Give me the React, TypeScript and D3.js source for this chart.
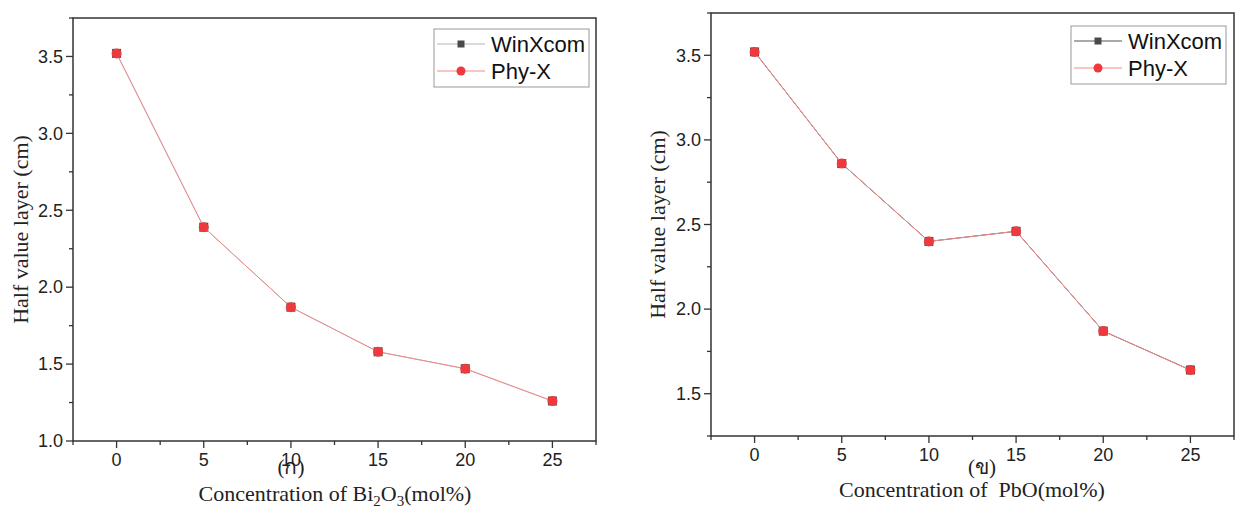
import React from 'react';
import * as d3 from 'd3';

// concentration (mol%) on the x axis, same for both panels
const concentrations = [0, 5, 10, 15, 20, 25];

// panel (ก) : Bi2O3
const bi2o3WinXcom = [3.52, 2.39, 1.87, 1.58, 1.47, 1.26];
const bi2o3PhyX = [3.52, 2.39, 1.87, 1.58, 1.47, 1.26];

// panel (ข) : PbO
const pboWinXcom = [3.52, 2.86, 2.40, 2.46, 1.87, 1.64];
const pboPhyX = [3.52, 2.86, 2.40, 2.46, 1.87, 1.64];

const xTicks = [0, 5, 10, 15, 20, 25];
const xMinorTicks = [-2.5, 2.5, 7.5, 12.5, 17.5, 22.5, 27.5];
const bi2o3YTicks = [1.0, 1.5, 2.0, 2.5, 3.0, 3.5];
const bi2o3YMinor = [1.25, 1.75, 2.25, 2.75, 3.25, 3.75];
const pboYTicks = [1.5, 2.0, 2.5, 3.0, 3.5];
const pboYMinor = [1.25, 1.75, 2.25, 2.75, 3.25, 3.75];

const seriesNames = ['WinXcom', 'Phy-X'];

const SANS = '"Liberation Sans", Arial, sans-serif';
const SERIF = '"Liberation Serif", "Times New Roman", serif';

type PanelProps = {
  left: number; right: number; top: number; bottom: number;
  yDomain: [number, number];
  yTicks: number[]; yMinor: number[];
  winxcom: number[]; phyx: number[];
  legendX: number; legendY: number;
  yTitleX: number;
  xTitle: React.ReactNode; xTitleX: number; xTitleY: number;
  tag: string; tagX: number;
  winLine: string;
};

function Panel(p: PanelProps) {
  const x = d3.scaleLinear().domain([-2.5, 27.5]).range([p.left, p.right]);
  const y = d3.scaleLinear().domain(p.yDomain).range([p.bottom, p.top]);
  const line = d3.line<number>()
    .x((_, i) => x(concentrations[i]))
    .y((d) => y(d));
  const axisColor = '#333';

  return (
    <g>
      {/* frame */}
      <rect x={p.left} y={p.top} width={p.right - p.left} height={p.bottom - p.top}
        fill="none" stroke={axisColor} strokeWidth={1.5} />

      {/* y ticks */}
      {p.yTicks.map((t) => (
        <g key={'y' + t}>
          <line x1={p.left - 7} x2={p.left} y1={y(t)} y2={y(t)} stroke={axisColor} strokeWidth={1.3} />
          <text x={p.left - 10} y={y(t)} dy="0.35em" textAnchor="end"
            fontFamily={SANS} fontSize={18} fill="#222">{t.toFixed(1)}</text>
        </g>
      ))}
      {p.yMinor.map((t) => (
        <line key={'ym' + t} x1={p.left - 4} x2={p.left} y1={y(t)} y2={y(t)} stroke={axisColor} strokeWidth={1.3} />
      ))}

      {/* x ticks */}
      {xTicks.map((t) => (
        <g key={'x' + t}>
          <line x1={x(t)} x2={x(t)} y1={p.bottom} y2={p.bottom + 7} stroke={axisColor} strokeWidth={1.3} />
          <text x={x(t)} y={p.bottom + 25} textAnchor="middle"
            fontFamily={SANS} fontSize={18} fill="#222">{t}</text>
        </g>
      ))}
      {xMinorTicks.map((t) => (
        <line key={'xm' + t} x1={x(t)} x2={x(t)} y1={p.bottom} y2={p.bottom + 4} stroke={axisColor} strokeWidth={1.3} />
      ))}

      {/* WinXcom */}
      <path d={line(p.winxcom) || ''} fill="none" stroke={p.winLine} strokeWidth={1} />
      {p.winxcom.map((v, i) => (
        <rect key={'w' + i} x={x(concentrations[i]) - 4.5} y={y(v) - 4.5} width={9} height={9} fill="#4a4a4a" />
      ))}

      {/* Phy-X */}
      <path d={line(p.phyx) || ''} fill="none" stroke="#f58a8a" strokeWidth={1} />
      {p.phyx.map((v, i) => (
        <circle key={'p' + i} cx={x(concentrations[i])} cy={y(v)} r={5} fill="#f0393c" />
      ))}

      {/* legend */}
      <g transform={`translate(${p.legendX},${p.legendY})`}>
        <rect x={0} y={0} width={155} height={58} fill="#fff" stroke="#999" strokeWidth={1} />
        <line x1={3} x2={51} y1={15} y2={15} stroke={p.winLine} strokeWidth={1} />
        <rect x={23.5} y={11.5} width={7} height={7} fill="#4a4a4a" />
        <text x={57} y={15} dy="0.35em" fontFamily={SANS} fontSize={22} fill="#111">{seriesNames[0]}</text>
        <line x1={3} x2={51} y1={42} y2={42} stroke="#f58a8a" strokeWidth={1} />
        <circle cx={27} cy={42} r={4.5} fill="#f0393c" />
        <text x={57} y={42} dy="0.35em" fontFamily={SANS} fontSize={22} fill="#111">{seriesNames[1]}</text>
      </g>

      {/* titles */}
      <text transform={`translate(${p.yTitleX},${(p.top + p.bottom) / 2}) rotate(-90)`}
        textAnchor="middle" dy="0.35em" fontFamily={SERIF} fontSize={22} fill="#222">Half value layer (cm)</text>
      <text x={p.xTitleX} y={p.xTitleY} textAnchor="middle" fontFamily={SERIF} fontSize={22} fill="#222">{p.xTitle}</text>
      <text x={p.tagX} y={474} textAnchor="middle" fontFamily={SERIF} fontSize={21} fill="#222">{p.tag}</text>
    </g>
  );
}

export default function App() {
  return (
    <svg width={1236} height={508} style={{ position: 'absolute', left: 0, top: 0, background: '#fff' }}>
      <rect width={1236} height={508} fill="#fff" />
      <Panel left={73} right={596} top={18} bottom={441}
        yDomain={[1.0, 3.75]} yTicks={bi2o3YTicks} yMinor={bi2o3YMinor}
        winxcom={bi2o3WinXcom} phyx={bi2o3PhyX}
        legendX={434} legendY={29} yTitleX={20}
        xTitle={<>Concentration of Bi<tspan dy={5} fontSize={15}>2</tspan><tspan dy={-5}>O</tspan><tspan dy={5} fontSize={15}>3</tspan><tspan dy={-5}>(mol%)</tspan></>}
        xTitleX={335} xTitleY={501}
        tag="(ก)" tagX={291} winLine="#b5b5b5" />
      <Panel left={711} right={1234} top={13} bottom={436}
        yDomain={[1.25, 3.75]} yTicks={pboYTicks} yMinor={pboYMinor}
        winxcom={pboWinXcom} phyx={pboPhyX}
        legendX={1071} legendY={26} yTitleX={657}
        xTitle={<>Concentration of{'\u00a0\u00a0'}PbO(mol%)</>}
        xTitleX={972} xTitleY={497}
        tag="(ข)" tagX={982} winLine="#555" />
    </svg>
  );
}
